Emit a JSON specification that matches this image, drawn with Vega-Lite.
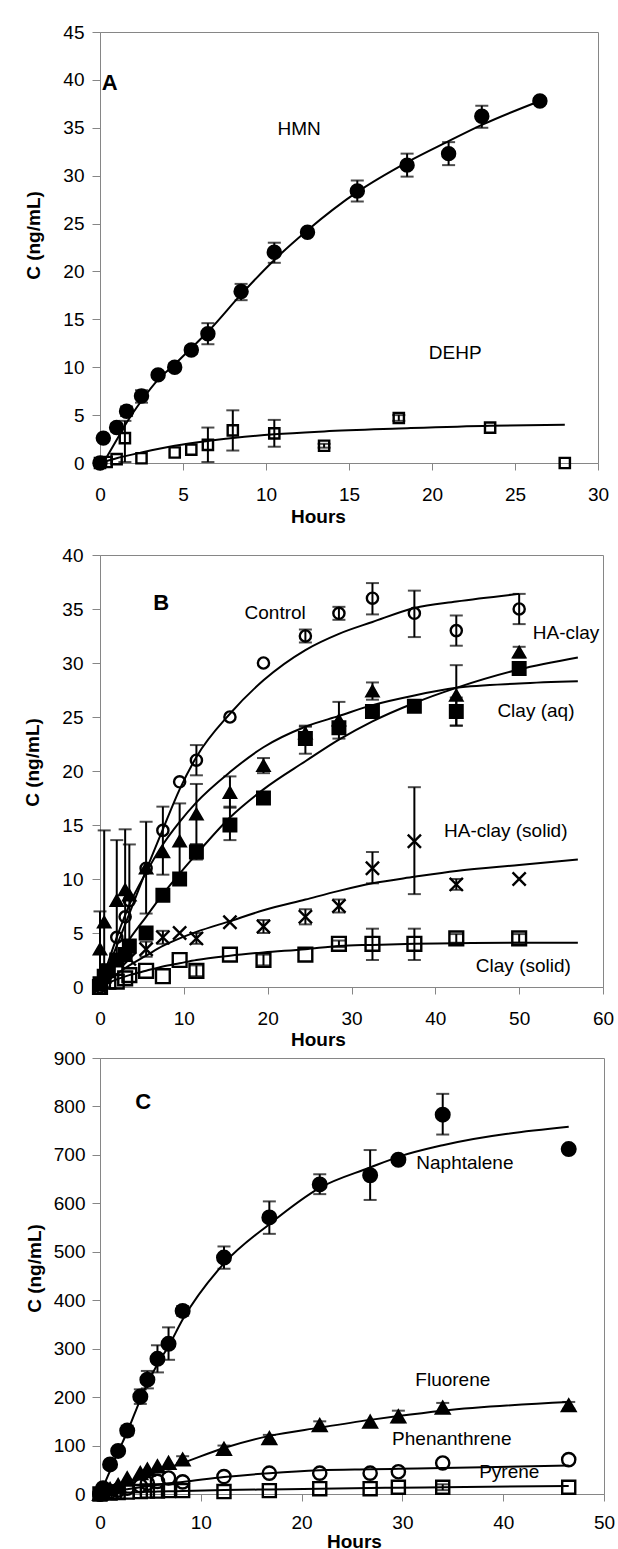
{
  "$schema": "https://vega.github.io/schema/vega-lite/v6.json",
  "background": "white",
  "padding": {"left": 23, "top": 22, "right": 0, "bottom": 0},
  "config": {
    "font": "Liberation Sans",
    "view": {"stroke": "#868686", "strokeWidth": 1},
    "axis": {"grid": false, "domainColor": "#868686", "tickColor": "#868686", "tickSize": 7, "labelFontSize": 19, "labelColor": "black", "titleFontSize": 19, "titleFontWeight": "bold", "titleColor": "black", "labelFlush": false, "labelOverlap": false},
    "text": {"fontSize": 19, "color": "black"}
  },
  "concat": [
    {
      "width": 498, "height": 431,
      "resolve": {"scale": {"shape": "independent", "fill": "independent", "size": "independent"}},
      "encoding": {"x": {"field": "t", "type": "quantitative", "title": "Hours", "scale": {"domain": [0, 30], "nice": false}, "axis": {"values": [0, 5, 10, 15, 20, 25, 30], "labelPadding": 15, "titlePadding": 3, "titleX": 218}}},
      "layer": [
        {
          "data": {"values": [
            {"s": "HMN", "t": 0.2, "c": 0}, {"s": "HMN", "t": 1, "c": 2.4}, {"s": "HMN", "t": 1.6, "c": 4.2}, {"s": "HMN", "t": 2.5, "c": 6.5}, {"s": "HMN", "t": 3.5, "c": 8.7}, {"s": "HMN", "t": 4.5, "c": 10.3}, {"s": "HMN", "t": 5.5, "c": 12.0}, {"s": "HMN", "t": 6.5, "c": 13.7}, {"s": "HMN", "t": 8.5, "c": 17.6}, {"s": "HMN", "t": 10.5, "c": 21.2}, {"s": "HMN", "t": 12.5, "c": 24.3}, {"s": "HMN", "t": 15.5, "c": 28.3}, {"s": "HMN", "t": 18.5, "c": 31.4}, {"s": "HMN", "t": 21, "c": 33.6}, {"s": "HMN", "t": 23, "c": 35.3}, {"s": "HMN", "t": 26.5, "c": 37.8},
            {"s": "DEHP", "t": 0.2, "c": 0.1}, {"s": "DEHP", "t": 1, "c": 0.5}, {"s": "DEHP", "t": 2.5, "c": 1.1}, {"s": "DEHP", "t": 4.5, "c": 1.8}, {"s": "DEHP", "t": 6.5, "c": 2.3}, {"s": "DEHP", "t": 8, "c": 2.6}, {"s": "DEHP", "t": 10.5, "c": 3.0}, {"s": "DEHP", "t": 13.5, "c": 3.3}, {"s": "DEHP", "t": 18, "c": 3.6}, {"s": "DEHP", "t": 23.5, "c": 3.9}, {"s": "DEHP", "t": 28, "c": 4.0}
          ]},
          "mark": {"type": "line", "color": "black", "strokeWidth": 2, "interpolate": "monotone"},
          "encoding": {
            "y": {"field": "c", "type": "quantitative", "title": "C (ng/mL)", "scale": {"domain": [0, 45], "nice": false}, "axis": {"values": [0, 5, 10, 15, 20, 25, 30, 35, 40, 45], "tickSize": 8, "labelPadding": 8, "titlePadding": 19, "titleY": 203}},
            "detail": {"field": "s"}
          }
        },
        {
          "data": {"name": "ptsA", "values": [
            {"s": "HMN", "t": 0, "c": 0}, {"s": "HMN", "t": 0.2, "c": 2.6}, {"s": "HMN", "t": 1, "c": 3.7, "lo": 3.3, "hi": 4.1}, {"s": "HMN", "t": 1.6, "c": 5.4, "lo": 4.9, "hi": 5.9}, {"s": "HMN", "t": 2.5, "c": 7.0, "lo": 6.3, "hi": 7.6}, {"s": "HMN", "t": 3.5, "c": 9.2}, {"s": "HMN", "t": 4.5, "c": 10.0, "lo": 9.6, "hi": 10.4}, {"s": "HMN", "t": 5.5, "c": 11.8, "lo": 11.4, "hi": 12.2}, {"s": "HMN", "t": 6.5, "c": 13.5, "lo": 12.4, "hi": 14.6}, {"s": "HMN", "t": 8.5, "c": 17.9, "lo": 17.0, "hi": 18.7}, {"s": "HMN", "t": 10.5, "c": 22.0, "lo": 20.9, "hi": 23.0}, {"s": "HMN", "t": 12.5, "c": 24.1}, {"s": "HMN", "t": 15.5, "c": 28.4, "lo": 27.3, "hi": 29.5}, {"s": "HMN", "t": 18.5, "c": 31.1, "lo": 29.9, "hi": 32.3}, {"s": "HMN", "t": 21, "c": 32.3, "lo": 31.1, "hi": 33.5}, {"s": "HMN", "t": 23, "c": 36.2, "lo": 35.0, "hi": 37.3}, {"s": "HMN", "t": 26.5, "c": 37.8, "lo": 37.5, "hi": 38.1},
            {"s": "DEHP", "t": 0, "c": 0}, {"s": "DEHP", "t": 0.4, "c": 0.1}, {"s": "DEHP", "t": 1, "c": 0.4}, {"s": "DEHP", "t": 1.5, "c": 2.6, "lo": 0.1, "hi": 4.4}, {"s": "DEHP", "t": 2.5, "c": 0.5}, {"s": "DEHP", "t": 4.5, "c": 1.1}, {"s": "DEHP", "t": 5.5, "c": 1.4}, {"s": "DEHP", "t": 6.5, "c": 1.9, "lo": 0.1, "hi": 3.7}, {"s": "DEHP", "t": 8, "c": 3.4, "lo": 1.3, "hi": 5.5}, {"s": "DEHP", "t": 10.5, "c": 3.1, "lo": 1.7, "hi": 4.5}, {"s": "DEHP", "t": 13.5, "c": 1.8, "lo": 1.6, "hi": 2.0}, {"s": "DEHP", "t": 18, "c": 4.7, "lo": 4.4, "hi": 5.0}, {"s": "DEHP", "t": 23.5, "c": 3.7}, {"s": "DEHP", "t": 28, "c": 0}
          ]},
          "transform": [{"filter": "isValid(datum.lo)"}],
          "mark": {"type": "errorbar", "color": "black", "thickness": 2, "ticks": {"size": 13, "thickness": 2, "color": "black"}},
          "encoding": {"y": {"field": "lo", "type": "quantitative", "title": "C (ng/mL)"}, "y2": {"field": "hi"}}
        },
        {
          "data": {"name": "ptsA"},
          "mark": {"type": "point", "stroke": "black", "strokeWidth": 2.4, "opacity": 1},
          "encoding": {
            "y": {"field": "c", "type": "quantitative", "title": "C (ng/mL)"},
            "shape": {"field": "s", "scale": {"domain": ["HMN", "DEHP"], "range": ["circle", "square"]}, "legend": null},
            "fill": {"field": "s", "scale": {"domain": ["HMN", "DEHP"], "range": ["black", "transparent"]}, "legend": null},
            "size": {"field": "s", "scale": {"domain": ["HMN", "DEHP"], "range": [170, 105]}, "legend": null}
          }
        },
        {
          "data": {"values": [{"t": 12.0, "c": 34.9, "txt": "HMN"}, {"t": 21.4, "c": 11.5, "txt": "DEHP"}]},
          "mark": {"type": "text", "align": "center", "baseline": "middle"},
          "encoding": {"y": {"field": "c", "type": "quantitative", "title": "C (ng/mL)"}, "text": {"field": "txt"}}
        },
        {
          "data": {"values": [{"t": 0.1, "c": 39.7, "txt": "A"}]},
          "mark": {"type": "text", "align": "left", "baseline": "middle", "fontWeight": "bold", "fontSize": 22},
          "encoding": {"y": {"field": "c", "type": "quantitative", "title": "C (ng/mL)"}, "text": {"field": "txt"}}
        }
      ]
    },
    {
      "concat": [
        {
          "width": 503, "height": 432,
          "resolve": {"scale": {"shape": "independent", "fill": "independent", "size": "independent"}},
          "encoding": {"x": {"field": "t", "type": "quantitative", "title": "Hours", "scale": {"domain": [0, 60], "nice": false}, "axis": {"values": [0, 10, 20, 30, 40, 50, 60], "labelPadding": 15, "titlePadding": 2, "titleX": 218}}},
          "layer": [
            {
              "data": {"values": [
                {"s": "Control", "t": 0, "c": 0}, {"s": "Control", "t": 2, "c": 3.8}, {"s": "Control", "t": 3.5, "c": 6.8}, {"s": "Control", "t": 5.5, "c": 10.8}, {"s": "Control", "t": 7.5, "c": 14.6}, {"s": "Control", "t": 9.5, "c": 18.3}, {"s": "Control", "t": 11.5, "c": 21.3}, {"s": "Control", "t": 15.5, "c": 25.3}, {"s": "Control", "t": 19.5, "c": 28.4}, {"s": "Control", "t": 24.5, "c": 31.2}, {"s": "Control", "t": 28.5, "c": 32.7}, {"s": "Control", "t": 32.5, "c": 33.8}, {"s": "Control", "t": 37.5, "c": 35.1}, {"s": "Control", "t": 42.5, "c": 35.7}, {"s": "Control", "t": 50, "c": 36.4},
                {"s": "HA-clay", "t": 0, "c": 0}, {"s": "HA-clay", "t": 2, "c": 4.6}, {"s": "HA-clay", "t": 3.5, "c": 7.6}, {"s": "HA-clay", "t": 5.5, "c": 10.6}, {"s": "HA-clay", "t": 7.5, "c": 13.2}, {"s": "HA-clay", "t": 9.5, "c": 15.3}, {"s": "HA-clay", "t": 11.5, "c": 17.1}, {"s": "HA-clay", "t": 15.5, "c": 19.9}, {"s": "HA-clay", "t": 19.5, "c": 22.2}, {"s": "HA-clay", "t": 24.5, "c": 24.1}, {"s": "HA-clay", "t": 28.5, "c": 25.1}, {"s": "HA-clay", "t": 32.5, "c": 26.1}, {"s": "HA-clay", "t": 37.5, "c": 27.0}, {"s": "HA-clay", "t": 42.5, "c": 27.7}, {"s": "HA-clay", "t": 50, "c": 28.1}, {"s": "HA-clay", "t": 57, "c": 28.3},
                {"s": "Clay (aq)", "t": 0, "c": 0}, {"s": "Clay (aq)", "t": 2, "c": 2.6}, {"s": "Clay (aq)", "t": 3.5, "c": 4.4}, {"s": "Clay (aq)", "t": 5.5, "c": 6.5}, {"s": "Clay (aq)", "t": 7.5, "c": 8.6}, {"s": "Clay (aq)", "t": 9.5, "c": 10.5}, {"s": "Clay (aq)", "t": 11.5, "c": 12.3}, {"s": "Clay (aq)", "t": 15.5, "c": 15.7}, {"s": "Clay (aq)", "t": 19.5, "c": 18.3}, {"s": "Clay (aq)", "t": 24.5, "c": 20.9}, {"s": "Clay (aq)", "t": 28.5, "c": 22.9}, {"s": "Clay (aq)", "t": 32.5, "c": 24.6}, {"s": "Clay (aq)", "t": 37.5, "c": 26.3}, {"s": "Clay (aq)", "t": 42.5, "c": 27.7}, {"s": "Clay (aq)", "t": 50, "c": 29.4}, {"s": "Clay (aq)", "t": 57, "c": 30.5},
                {"s": "HA-clay (solid)", "t": 0, "c": 0}, {"s": "HA-clay (solid)", "t": 2, "c": 1.2}, {"s": "HA-clay (solid)", "t": 3.5, "c": 2.0}, {"s": "HA-clay (solid)", "t": 5.5, "c": 2.9}, {"s": "HA-clay (solid)", "t": 7.5, "c": 3.8}, {"s": "HA-clay (solid)", "t": 9.5, "c": 4.5}, {"s": "HA-clay (solid)", "t": 11.5, "c": 5.1}, {"s": "HA-clay (solid)", "t": 15.5, "c": 6.1}, {"s": "HA-clay (solid)", "t": 19.5, "c": 7.1}, {"s": "HA-clay (solid)", "t": 24.5, "c": 8.1}, {"s": "HA-clay (solid)", "t": 28.5, "c": 8.9}, {"s": "HA-clay (solid)", "t": 32.5, "c": 9.6}, {"s": "HA-clay (solid)", "t": 37.5, "c": 10.2}, {"s": "HA-clay (solid)", "t": 42.5, "c": 10.75}, {"s": "HA-clay (solid)", "t": 50, "c": 11.3}, {"s": "HA-clay (solid)", "t": 57, "c": 11.8},
                {"s": "Clay (solid)", "t": 0, "c": 0}, {"s": "Clay (solid)", "t": 2, "c": 0.7}, {"s": "Clay (solid)", "t": 3.5, "c": 1.1}, {"s": "Clay (solid)", "t": 5.5, "c": 1.5}, {"s": "Clay (solid)", "t": 7.5, "c": 1.9}, {"s": "Clay (solid)", "t": 9.5, "c": 2.2}, {"s": "Clay (solid)", "t": 11.5, "c": 2.5}, {"s": "Clay (solid)", "t": 15.5, "c": 2.9}, {"s": "Clay (solid)", "t": 19.5, "c": 3.2}, {"s": "Clay (solid)", "t": 24.5, "c": 3.5}, {"s": "Clay (solid)", "t": 28.5, "c": 3.8}, {"s": "Clay (solid)", "t": 32.5, "c": 3.9}, {"s": "Clay (solid)", "t": 37.5, "c": 4.0}, {"s": "Clay (solid)", "t": 42.5, "c": 4.05}, {"s": "Clay (solid)", "t": 50, "c": 4.1}, {"s": "Clay (solid)", "t": 57, "c": 4.1}
              ]},
              "mark": {"type": "line", "color": "black", "strokeWidth": 2, "interpolate": "monotone"},
              "encoding": {
                "y": {"field": "c", "type": "quantitative", "title": "C (ng/mL)", "scale": {"domain": [0, 40], "nice": false}, "axis": {"values": [0, 5, 10, 15, 20, 25, 30, 35, 40], "tickSize": 8, "labelPadding": 9, "titlePadding": 19, "titleY": 207}},
                "detail": {"field": "s"}
              }
            },
            {
              "data": {"name": "ptsB", "values": [
                {"s": "Control", "t": 0, "c": 0}, {"s": "Control", "t": 2, "c": 4.6}, {"s": "Control", "t": 3, "c": 6.5}, {"s": "Control", "t": 3.5, "c": 8.0}, {"s": "Control", "t": 5.5, "c": 11.0}, {"s": "Control", "t": 7.5, "c": 14.5}, {"s": "Control", "t": 9.5, "c": 19.0}, {"s": "Control", "t": 11.5, "c": 21.0, "lo": 19.6, "hi": 22.4}, {"s": "Control", "t": 15.5, "c": 25.0}, {"s": "Control", "t": 19.5, "c": 30.0}, {"s": "Control", "t": 24.5, "c": 32.5, "lo": 31.9, "hi": 33.1}, {"s": "Control", "t": 28.5, "c": 34.6, "lo": 34.0, "hi": 35.2}, {"s": "Control", "t": 32.5, "c": 36.0, "lo": 34.5, "hi": 37.4}, {"s": "Control", "t": 37.5, "c": 34.6, "lo": 32.4, "hi": 36.7}, {"s": "Control", "t": 42.5, "c": 33.0, "lo": 31.6, "hi": 34.4}, {"s": "Control", "t": 50, "c": 35.0, "lo": 33.6, "hi": 36.4},
                {"s": "HA-clay", "t": 0, "c": 3.5, "lo": 0.0, "hi": 7.0}, {"s": "HA-clay", "t": 0.5, "c": 6.0, "lo": 0.0, "hi": 14.5}, {"s": "HA-clay", "t": 2, "c": 8.0, "lo": 2.4, "hi": 13.6}, {"s": "HA-clay", "t": 3, "c": 9.0, "lo": 3.4, "hi": 14.6}, {"s": "HA-clay", "t": 3.5, "c": 8.5, "lo": 3.8, "hi": 13.2}, {"s": "HA-clay", "t": 5.5, "c": 11.0, "lo": 6.8, "hi": 15.3}, {"s": "HA-clay", "t": 7.5, "c": 12.5, "lo": 10.4, "hi": 16.7}, {"s": "HA-clay", "t": 9.5, "c": 13.5, "lo": 10.0, "hi": 17.0}, {"s": "HA-clay", "t": 11.5, "c": 16.0, "lo": 13.2, "hi": 18.8}, {"s": "HA-clay", "t": 15.5, "c": 18.0, "lo": 16.6, "hi": 19.5}, {"s": "HA-clay", "t": 19.5, "c": 20.5, "lo": 19.8, "hi": 21.2}, {"s": "HA-clay", "t": 24.5, "c": 23.5, "lo": 22.8, "hi": 24.2}, {"s": "HA-clay", "t": 28.5, "c": 24.7, "lo": 23.0, "hi": 26.4}, {"s": "HA-clay", "t": 32.5, "c": 27.4, "lo": 26.6, "hi": 28.2}, {"s": "HA-clay", "t": 42.5, "c": 27.0, "lo": 24.2, "hi": 29.8}, {"s": "HA-clay", "t": 50, "c": 31.0, "lo": 30.5, "hi": 31.5},
                {"s": "Clay (aq)", "t": 0, "c": 0.3}, {"s": "Clay (aq)", "t": 0.5, "c": 1.0}, {"s": "Clay (aq)", "t": 1, "c": 1.5}, {"s": "Clay (aq)", "t": 2, "c": 2.5}, {"s": "Clay (aq)", "t": 3, "c": 3.0}, {"s": "Clay (aq)", "t": 3.5, "c": 3.8}, {"s": "Clay (aq)", "t": 5.5, "c": 5.0}, {"s": "Clay (aq)", "t": 7.5, "c": 8.5}, {"s": "Clay (aq)", "t": 9.5, "c": 10.0}, {"s": "Clay (aq)", "t": 11.5, "c": 12.5, "lo": 11.8, "hi": 13.2}, {"s": "Clay (aq)", "t": 15.5, "c": 15.0, "lo": 13.6, "hi": 16.7}, {"s": "Clay (aq)", "t": 19.5, "c": 17.5, "lo": 17.1, "hi": 17.9}, {"s": "Clay (aq)", "t": 24.5, "c": 23.0, "lo": 21.6, "hi": 24.1}, {"s": "Clay (aq)", "t": 28.5, "c": 24.0, "lo": 23.5, "hi": 24.5}, {"s": "Clay (aq)", "t": 32.5, "c": 25.5}, {"s": "Clay (aq)", "t": 37.5, "c": 26.0}, {"s": "Clay (aq)", "t": 42.5, "c": 25.5, "lo": 24.2, "hi": 26.8}, {"s": "Clay (aq)", "t": 50, "c": 29.5, "lo": 29.0, "hi": 30.0},
                {"s": "HA-clay (solid)", "t": 0, "c": 0}, {"s": "HA-clay (solid)", "t": 1, "c": 1.5}, {"s": "HA-clay (solid)", "t": 2, "c": 2.5}, {"s": "HA-clay (solid)", "t": 3, "c": 3.0}, {"s": "HA-clay (solid)", "t": 3.5, "c": 2.6}, {"s": "HA-clay (solid)", "t": 5.5, "c": 3.5, "lo": 2.8, "hi": 4.2}, {"s": "HA-clay (solid)", "t": 7.5, "c": 4.6, "lo": 4.0, "hi": 5.2}, {"s": "HA-clay (solid)", "t": 9.5, "c": 5.0}, {"s": "HA-clay (solid)", "t": 11.5, "c": 4.5, "lo": 4.0, "hi": 5.0}, {"s": "HA-clay (solid)", "t": 15.5, "c": 6.0}, {"s": "HA-clay (solid)", "t": 19.5, "c": 5.6, "lo": 5.0, "hi": 6.2}, {"s": "HA-clay (solid)", "t": 24.5, "c": 6.5, "lo": 5.8, "hi": 7.2}, {"s": "HA-clay (solid)", "t": 28.5, "c": 7.5, "lo": 6.9, "hi": 8.1}, {"s": "HA-clay (solid)", "t": 32.5, "c": 11.0, "lo": 9.6, "hi": 12.5}, {"s": "HA-clay (solid)", "t": 37.5, "c": 13.5, "lo": 8.6, "hi": 18.5}, {"s": "HA-clay (solid)", "t": 42.5, "c": 9.5, "lo": 9.0, "hi": 10.0}, {"s": "HA-clay (solid)", "t": 50, "c": 10.0},
                {"s": "Clay (solid)", "t": 0, "c": 0}, {"s": "Clay (solid)", "t": 1, "c": 0.5}, {"s": "Clay (solid)", "t": 2, "c": 0.5}, {"s": "Clay (solid)", "t": 3, "c": 0.8}, {"s": "Clay (solid)", "t": 3.5, "c": 1.1}, {"s": "Clay (solid)", "t": 5.5, "c": 1.5}, {"s": "Clay (solid)", "t": 7.5, "c": 1.0}, {"s": "Clay (solid)", "t": 9.5, "c": 2.5}, {"s": "Clay (solid)", "t": 11.5, "c": 1.5, "lo": 1.0, "hi": 2.0}, {"s": "Clay (solid)", "t": 15.5, "c": 3.0}, {"s": "Clay (solid)", "t": 19.5, "c": 2.5, "lo": 2.0, "hi": 3.0}, {"s": "Clay (solid)", "t": 24.5, "c": 3.0}, {"s": "Clay (solid)", "t": 28.5, "c": 4.0, "lo": 3.7, "hi": 4.3}, {"s": "Clay (solid)", "t": 32.5, "c": 4.0, "lo": 2.5, "hi": 5.4}, {"s": "Clay (solid)", "t": 37.5, "c": 4.0, "lo": 2.5, "hi": 5.4}, {"s": "Clay (solid)", "t": 42.5, "c": 4.5, "lo": 4.1, "hi": 4.9}, {"s": "Clay (solid)", "t": 50, "c": 4.5, "lo": 4.1, "hi": 4.9}
              ]},
              "transform": [{"filter": "isValid(datum.lo)"}],
              "mark": {"type": "errorbar", "color": "black", "thickness": 2, "ticks": {"size": 13, "thickness": 2, "color": "black"}},
              "encoding": {"y": {"field": "lo", "type": "quantitative", "title": "C (ng/mL)"}, "y2": {"field": "hi"}}
            },
            {
              "data": {"name": "ptsB"},
              "mark": {"type": "point", "stroke": "black", "strokeWidth": 2.4, "opacity": 1},
              "encoding": {
                "y": {"field": "c", "type": "quantitative", "title": "C (ng/mL)"},
                "shape": {"field": "s", "scale": {"domain": ["Control", "HA-clay", "Clay (aq)", "HA-clay (solid)", "Clay (solid)"], "range": ["circle", "triangle-up", "square", "M-1,-1L1,1M-1,1L1,-1", "square"]}, "legend": null},
                "fill": {"field": "s", "scale": {"domain": ["Control", "HA-clay", "Clay (aq)", "HA-clay (solid)", "Clay (solid)"], "range": ["transparent", "black", "black", "transparent", "transparent"]}, "legend": null},
                "size": {"field": "s", "scale": {"domain": ["Control", "HA-clay", "Clay (aq)", "HA-clay (solid)", "Clay (solid)"], "range": [125, 190, 140, 130, 105]}, "legend": null}
              }
            },
            {
              "data": {"values": [{"t": 20.9, "c": 34.6, "txt": "Control"}, {"t": 55.6, "c": 32.8, "txt": "HA-clay"}, {"t": 52.0, "c": 25.6, "txt": "Clay (aq)"}, {"t": 48.4, "c": 14.4, "txt": "HA-clay (solid)"}, {"t": 50.5, "c": 1.9, "txt": "Clay (solid)"}]},
              "mark": {"type": "text", "align": "center", "baseline": "middle"},
              "encoding": {"y": {"field": "c", "type": "quantitative", "title": "C (ng/mL)"}, "text": {"field": "txt"}}
            },
            {
              "data": {"values": [{"t": 6.36, "c": 35.6, "txt": "B"}]},
              "mark": {"type": "text", "align": "left", "baseline": "middle", "fontWeight": "bold", "fontSize": 22},
              "encoding": {"y": {"field": "c", "type": "quantitative", "title": "C (ng/mL)"}, "text": {"field": "txt"}}
            }
          ]
        },
        {
          "width": 504, "height": 436,
          "resolve": {"scale": {"shape": "independent", "fill": "independent", "size": "independent"}},
          "encoding": {"x": {"field": "t", "type": "quantitative", "title": "Hours", "scale": {"domain": [0, 50], "nice": false}, "axis": {"values": [0, 10, 20, 30, 40, 50], "labelPadding": 12, "titlePadding": 0, "titleX": 254}}},
          "layer": [
            {
              "data": {"values": [
                {"s": "Naphtalene", "t": 0, "c": 0}, {"s": "Naphtalene", "t": 0.3, "c": 14}, {"s": "Naphtalene", "t": 1.0, "c": 48}, {"s": "Naphtalene", "t": 1.8, "c": 87}, {"s": "Naphtalene", "t": 2.7, "c": 128}, {"s": "Naphtalene", "t": 4.0, "c": 195}, {"s": "Naphtalene", "t": 4.7, "c": 228}, {"s": "Naphtalene", "t": 5.7, "c": 268}, {"s": "Naphtalene", "t": 6.8, "c": 305}, {"s": "Naphtalene", "t": 8.2, "c": 360}, {"s": "Naphtalene", "t": 12.3, "c": 476}, {"s": "Naphtalene", "t": 16.8, "c": 557}, {"s": "Naphtalene", "t": 21.8, "c": 632}, {"s": "Naphtalene", "t": 26.8, "c": 674}, {"s": "Naphtalene", "t": 29.6, "c": 696}, {"s": "Naphtalene", "t": 34.0, "c": 720}, {"s": "Naphtalene", "t": 46.5, "c": 758},
                {"s": "Fluorene", "t": 0, "c": 0}, {"s": "Fluorene", "t": 1.0, "c": 8}, {"s": "Fluorene", "t": 1.8, "c": 15}, {"s": "Fluorene", "t": 2.7, "c": 22}, {"s": "Fluorene", "t": 4.0, "c": 33}, {"s": "Fluorene", "t": 4.7, "c": 39}, {"s": "Fluorene", "t": 5.7, "c": 46}, {"s": "Fluorene", "t": 6.8, "c": 54}, {"s": "Fluorene", "t": 8.2, "c": 64}, {"s": "Fluorene", "t": 12.3, "c": 95}, {"s": "Fluorene", "t": 16.8, "c": 120}, {"s": "Fluorene", "t": 21.8, "c": 137}, {"s": "Fluorene", "t": 26.8, "c": 153}, {"s": "Fluorene", "t": 29.6, "c": 161}, {"s": "Fluorene", "t": 34.0, "c": 172}, {"s": "Fluorene", "t": 46.5, "c": 190},
                {"s": "Phenanthrene", "t": 0, "c": 0}, {"s": "Phenanthrene", "t": 1.0, "c": 4}, {"s": "Phenanthrene", "t": 1.8, "c": 7}, {"s": "Phenanthrene", "t": 2.7, "c": 10}, {"s": "Phenanthrene", "t": 4.0, "c": 14}, {"s": "Phenanthrene", "t": 4.7, "c": 16}, {"s": "Phenanthrene", "t": 5.7, "c": 19}, {"s": "Phenanthrene", "t": 6.8, "c": 22}, {"s": "Phenanthrene", "t": 8.2, "c": 25}, {"s": "Phenanthrene", "t": 12.3, "c": 35}, {"s": "Phenanthrene", "t": 16.8, "c": 43}, {"s": "Phenanthrene", "t": 21.8, "c": 49}, {"s": "Phenanthrene", "t": 26.8, "c": 51}, {"s": "Phenanthrene", "t": 29.6, "c": 52}, {"s": "Phenanthrene", "t": 34.0, "c": 53.5}, {"s": "Phenanthrene", "t": 46.5, "c": 59},
                {"s": "Pyrene", "t": 0, "c": 0}, {"s": "Pyrene", "t": 1.0, "c": 1}, {"s": "Pyrene", "t": 1.8, "c": 2}, {"s": "Pyrene", "t": 2.7, "c": 3}, {"s": "Pyrene", "t": 4.0, "c": 4}, {"s": "Pyrene", "t": 4.7, "c": 4.5}, {"s": "Pyrene", "t": 5.7, "c": 5}, {"s": "Pyrene", "t": 6.8, "c": 5.5}, {"s": "Pyrene", "t": 8.2, "c": 6}, {"s": "Pyrene", "t": 12.3, "c": 8}, {"s": "Pyrene", "t": 16.8, "c": 9.5}, {"s": "Pyrene", "t": 21.8, "c": 11}, {"s": "Pyrene", "t": 26.8, "c": 12.5}, {"s": "Pyrene", "t": 29.6, "c": 13}, {"s": "Pyrene", "t": 34.0, "c": 14}, {"s": "Pyrene", "t": 46.5, "c": 16.5}
              ]},
              "mark": {"type": "line", "color": "black", "strokeWidth": 2, "interpolate": "monotone"},
              "encoding": {
                "y": {"field": "c", "type": "quantitative", "title": "C (ng/mL)", "scale": {"domain": [0, 900], "nice": false}, "axis": {"values": [0, 100, 200, 300, 400, 500, 600, 700, 800, 900], "tickSize": 8, "labelPadding": 7, "titlePadding": 9, "titleY": 210}},
                "detail": {"field": "s"}
              }
            },
            {
              "data": {"name": "ptsC", "values": [
                {"s": "Naphtalene", "t": 0, "c": 0}, {"s": "Naphtalene", "t": 0.3, "c": 12}, {"s": "Naphtalene", "t": 1.0, "c": 61}, {"s": "Naphtalene", "t": 1.8, "c": 89}, {"s": "Naphtalene", "t": 2.7, "c": 131, "lo": 121, "hi": 141}, {"s": "Naphtalene", "t": 4.0, "c": 201, "lo": 186, "hi": 216}, {"s": "Naphtalene", "t": 4.7, "c": 236, "lo": 218, "hi": 254}, {"s": "Naphtalene", "t": 5.7, "c": 279, "lo": 251, "hi": 307}, {"s": "Naphtalene", "t": 6.8, "c": 310, "lo": 277, "hi": 344}, {"s": "Naphtalene", "t": 8.2, "c": 378, "lo": 368, "hi": 388}, {"s": "Naphtalene", "t": 12.3, "c": 488, "lo": 465, "hi": 511}, {"s": "Naphtalene", "t": 16.8, "c": 571, "lo": 537, "hi": 604}, {"s": "Naphtalene", "t": 21.8, "c": 639, "lo": 619, "hi": 660}, {"s": "Naphtalene", "t": 26.8, "c": 658, "lo": 607, "hi": 710}, {"s": "Naphtalene", "t": 29.6, "c": 690}, {"s": "Naphtalene", "t": 34.0, "c": 783, "lo": 742, "hi": 826}, {"s": "Naphtalene", "t": 46.5, "c": 712, "lo": 705, "hi": 719},
                {"s": "Fluorene", "t": 0, "c": 0}, {"s": "Fluorene", "t": 0.3, "c": 4}, {"s": "Fluorene", "t": 1.0, "c": 10}, {"s": "Fluorene", "t": 1.8, "c": 18}, {"s": "Fluorene", "t": 2.7, "c": 32}, {"s": "Fluorene", "t": 4.0, "c": 43}, {"s": "Fluorene", "t": 4.7, "c": 50}, {"s": "Fluorene", "t": 5.7, "c": 57}, {"s": "Fluorene", "t": 6.8, "c": 64}, {"s": "Fluorene", "t": 8.2, "c": 71, "lo": 64, "hi": 78}, {"s": "Fluorene", "t": 12.3, "c": 93, "lo": 86, "hi": 100}, {"s": "Fluorene", "t": 16.8, "c": 115, "lo": 108, "hi": 122}, {"s": "Fluorene", "t": 21.8, "c": 142, "lo": 134, "hi": 150}, {"s": "Fluorene", "t": 26.8, "c": 149}, {"s": "Fluorene", "t": 29.6, "c": 160, "lo": 148, "hi": 172}, {"s": "Fluorene", "t": 34.0, "c": 178, "lo": 168, "hi": 188}, {"s": "Fluorene", "t": 46.5, "c": 183, "lo": 176, "hi": 190},
                {"s": "Phenanthrene", "t": 0, "c": 0}, {"s": "Phenanthrene", "t": 1.0, "c": 5}, {"s": "Phenanthrene", "t": 1.8, "c": 8}, {"s": "Phenanthrene", "t": 2.7, "c": 12}, {"s": "Phenanthrene", "t": 4.0, "c": 17}, {"s": "Phenanthrene", "t": 4.7, "c": 22}, {"s": "Phenanthrene", "t": 5.7, "c": 26}, {"s": "Phenanthrene", "t": 6.8, "c": 33}, {"s": "Phenanthrene", "t": 8.2, "c": 25}, {"s": "Phenanthrene", "t": 12.3, "c": 36}, {"s": "Phenanthrene", "t": 16.8, "c": 43}, {"s": "Phenanthrene", "t": 21.8, "c": 43}, {"s": "Phenanthrene", "t": 26.8, "c": 43}, {"s": "Phenanthrene", "t": 29.6, "c": 46}, {"s": "Phenanthrene", "t": 34.0, "c": 64}, {"s": "Phenanthrene", "t": 46.5, "c": 71},
                {"s": "Pyrene", "t": 0, "c": 0}, {"s": "Pyrene", "t": 1.0, "c": 2}, {"s": "Pyrene", "t": 1.8, "c": 3}, {"s": "Pyrene", "t": 2.7, "c": 4}, {"s": "Pyrene", "t": 4.0, "c": 5}, {"s": "Pyrene", "t": 4.7, "c": 6}, {"s": "Pyrene", "t": 5.7, "c": 6}, {"s": "Pyrene", "t": 6.8, "c": 7}, {"s": "Pyrene", "t": 8.2, "c": 7}, {"s": "Pyrene", "t": 12.3, "c": 5}, {"s": "Pyrene", "t": 16.8, "c": 7}, {"s": "Pyrene", "t": 21.8, "c": 11}, {"s": "Pyrene", "t": 26.8, "c": 11}, {"s": "Pyrene", "t": 29.6, "c": 14}, {"s": "Pyrene", "t": 34.0, "c": 14, "lo": 8, "hi": 20}, {"s": "Pyrene", "t": 46.5, "c": 14}
              ]},
              "transform": [{"filter": "isValid(datum.lo)"}],
              "mark": {"type": "errorbar", "color": "black", "thickness": 2, "ticks": {"size": 13, "thickness": 2, "color": "black"}},
              "encoding": {"y": {"field": "lo", "type": "quantitative", "title": "C (ng/mL)"}, "y2": {"field": "hi"}}
            },
            {
              "data": {"name": "ptsC"},
              "mark": {"type": "point", "stroke": "black", "strokeWidth": 2.4, "opacity": 1},
              "encoding": {
                "y": {"field": "c", "type": "quantitative", "title": "C (ng/mL)"},
                "shape": {"field": "s", "scale": {"domain": ["Naphtalene", "Fluorene", "Phenanthrene", "Pyrene"], "range": ["circle", "triangle-up", "circle", "square"]}, "legend": null},
                "fill": {"field": "s", "scale": {"domain": ["Naphtalene", "Fluorene", "Phenanthrene", "Pyrene"], "range": ["black", "black", "transparent", "transparent"]}, "legend": null},
                "size": {"field": "s", "scale": {"domain": ["Naphtalene", "Fluorene", "Phenanthrene", "Pyrene"], "range": [185, 170, 110, 100]}, "legend": null}
              }
            },
            {
              "data": {"values": [{"t": 36.2, "c": 683, "txt": "Naphtalene"}, {"t": 35.0, "c": 236, "txt": "Fluorene"}, {"t": 34.9, "c": 113, "txt": "Phenanthrene"}, {"t": 40.6, "c": 45, "txt": "Pyrene"}]},
              "mark": {"type": "text", "align": "center", "baseline": "middle"},
              "encoding": {"y": {"field": "c", "type": "quantitative", "title": "C (ng/mL)"}, "text": {"field": "txt"}}
            },
            {
              "data": {"values": [{"t": 3.5, "c": 809, "txt": "C"}]},
              "mark": {"type": "text", "align": "left", "baseline": "middle", "fontWeight": "bold", "fontSize": 22},
              "encoding": {"y": {"field": "c", "type": "quantitative", "title": "C (ng/mL)"}, "text": {"field": "txt"}}
            }
          ]
        }
      ],
      "columns": 1,
      "align": "none",
      "spacing": -2
    }
  ],
  "columns": 1,
  "align": "none",
  "spacing": 18
}
